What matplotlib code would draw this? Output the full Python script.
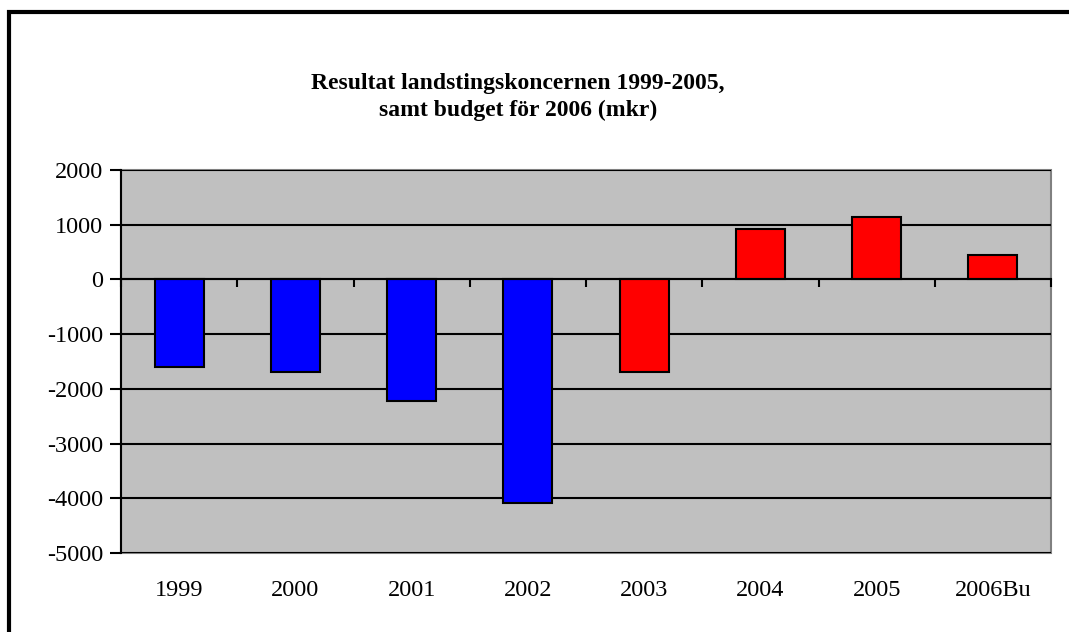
import numpy as np
import matplotlib.pyplot as plt
from matplotlib.patches import Rectangle
from matplotlib.transforms import blended_transform_factory

years = ['1999', '2000', '2001', '2002', '2003', '2004', '2005', '2006Bu']
result = [-1600, -1700, -2220, -4080, -1700, 920, 1140, 440]
bar_colors = ['#0000FF'] * 4 + ['#FF0000'] * 4
yticks = [2000, 1000, 0, -1000, -2000, -3000, -4000, -5000]

plt.rcParams['font.family'] = ['Liberation Serif', 'DejaVu Serif']

W, H = 1069, 632
fig = plt.figure(figsize=(W / 100, H / 100), dpi=100)
ax = fig.add_axes([121 / W, 1 - 553 / H, (1051 - 121) / W, (553 - 170) / H])

x = np.arange(len(years))
ax.set_facecolor('#C0C0C0')
ax.bar(x, result, width=0.42, color=bar_colors, edgecolor='black', linewidth=1.5, zorder=3)

ax.set_xlim(-0.5, len(years) - 0.5)
ax.set_ylim(min(yticks), max(yticks))
ax.set_yticks(yticks)
ax.set_yticklabels([str(v) for v in yticks], fontsize=17.5)
ax.tick_params(axis='y', direction='out', length=8, width=1.5, pad=5)
ax.yaxis.grid(True, color='black', linewidth=1.5, zorder=1)
ax.set_axisbelow(True)

# category axis crosses at zero, ticks between categories
ax.spines['bottom'].set_position(('data', 0))
ax.spines['bottom'].set_linewidth(1.5)
ax.spines['bottom'].set_zorder(4)
ax.set_xticks(np.arange(len(years) + 1) - 0.5)
ax.set_xticklabels([])
ax.tick_params(axis='x', direction='out', length=6, width=1.5)
ax.spines['left'].set_linewidth(1.5)
ax.spines['top'].set_visible(False)
ax.spines['right'].set_visible(False)
ax.add_patch(Rectangle((0, 0), 1, 1, transform=ax.transAxes, fill=False,
                       edgecolor='#808080', linewidth=1.5, zorder=0.5, clip_on=False))

trans = blended_transform_factory(ax.transData, ax.transAxes)
for i, lab in enumerate(years):
    ax.text(i, -37 / (553 - 170), lab, transform=trans, ha='center', va='center', fontsize=17.5)

fig.text(518 / W, 1 - 97 / H, 'Resultat landstingskoncernen 1999-2005,\nsamt budget för 2006 (mkr)',
         ha='center', va='center', fontsize=17, fontweight='bold', linespacing=1.4)

# outer chart frame (cut at right and bottom)
fig.patches.append(Rectangle((9 / W, -0.1), 1.2, 1 - 12 / H + 0.1, transform=fig.transFigure,
                             fill=False, edgecolor='black', linewidth=3, figure=fig))

fig.savefig('out.png', dpi=100)
